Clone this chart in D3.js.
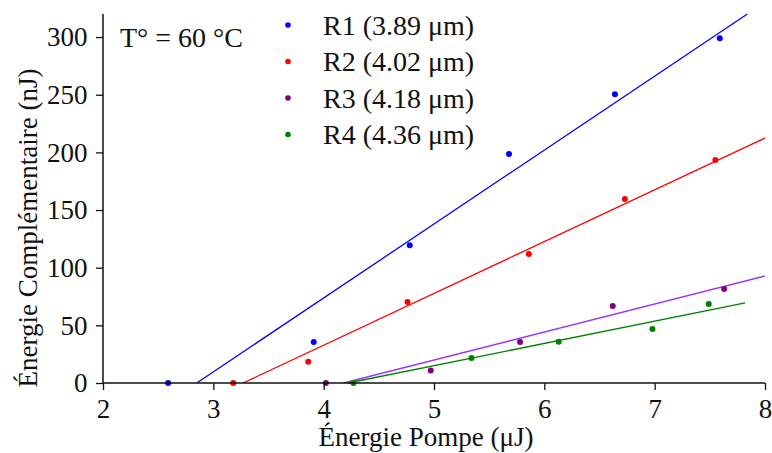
<!DOCTYPE html>
<html><head><meta charset="utf-8">
<script src="https://cdn.jsdelivr.net/npm/d3@7"></script>
<style>body{margin:0;background:#fff}svg{display:block}text{font-family:"Liberation Serif","DejaVu Serif",serif;fill:#111}</style>
</head><body><svg id="c" width="772" height="453"></svg>
<script>
const seriesNames = ["R1 (3.89 μm)", "R2 (4.02 μm)", "R3 (4.18 μm)", "R4 (4.36 μm)"];
const dotColors = ["#0000ff", "#ff0000", "#800080", "#008000"];
const lineColors = ["#0000ff", "#ff0000", "#9933ff", "#008000"];
const r1 = [[2.59,0],[3.91,35.6],[4.78,119.5],[5.68,198.5],[6.64,250.5],[7.59,299]];
const r2 = [[3.18,0],[3.86,18.5],[4.76,70.3],[5.86,111.8],[6.73,159.6],[7.55,193.4]];
const r3 = [[4.02,0],[4.97,10.8],[5.78,35.6],[6.62,66.8],[7.63,81.5]];
const r4 = [[4.27,0],[5.34,21.7],[6.13,35.8],[6.98,46.8],[7.49,68.5]];
const fit1 = [[2.85,0],[7.84,320]];
const fit2 = [[3.27,0],[8.0,212.5]];
const fit3 = [[4.18,0],[8.0,92.8]];
const fit4 = [[4.22,0],[7.82,69.4]];
const xTicks = [2,3,4,5,6,7,8];
const yTicks = [0,50,100,150,200,250,300];
const xTitle = "Énergie Pompe (μJ)";
const yTitle = "Énergie Complémentaire (nJ)";
const note = "T° = 60 °C";

const pts = [r1,r2,r3,r4], fits = [fit1,fit2,fit3,fit4];
const svg = d3.select("#c");
const x = d3.scaleLinear().domain([2,8]).range([103,765]);
const y = d3.scaleLinear().domain([0,320]).range([383,14]);

const line = d3.line().x(d=>x(d[0])).y(d=>y(d[1]));
fits.forEach((f,i)=>svg.append("path").attr("d",line(f)).attr("fill","none").attr("stroke",lineColors[i]).attr("stroke-width",1.3));
pts.forEach((p,i)=>svg.append("g").selectAll("circle").data(p).join("circle")
  .attr("cx",d=>x(d[0])).attr("cy",d=>y(d[1])).attr("r",3).attr("fill",dotColors[i]));

const xa = svg.append("g").attr("transform","translate(0,383)");
xa.call(d3.axisBottom(x).tickValues(d3.range(2,8.01,0.5)).tickSize(4).tickFormat(""));
xa.call(d3.axisBottom(x).tickValues(xTicks).tickSize(7).tickSizeOuter(0).tickFormat(d3.format("d")));
xa.selectAll("text").attr("font-size",27).attr("dy","0.93em");
const ya = svg.append("g").attr("transform","translate(103,0)");
ya.call(d3.axisLeft(y).tickValues(d3.range(0,320,25)).tickSize(4).tickFormat(""));
ya.call(d3.axisLeft(y).tickValues(yTicks).tickSize(7).tickSizeOuter(0).tickFormat(d3.format("d")));
ya.selectAll("text").attr("font-size",27).attr("dx","-0.2em").attr("dy","0.33em");
svg.selectAll(".tick line").attr("stroke","#111").attr("stroke-width",1.3);
svg.selectAll(".domain").attr("d",null);
svg.append("line").attr("x1",x(2)).attr("x2",x(8)).attr("y1",y(0)).attr("y2",y(0)).attr("stroke","#111").attr("stroke-width",1.5);
svg.append("line").attr("x1",x(2)).attr("x2",x(2)).attr("y1",y(0)).attr("y2",y(320)).attr("stroke","#111").attr("stroke-width",1.5);

svg.append("text").attr("x",426).attr("y",446).attr("text-anchor","middle").attr("font-size",27).text(xTitle);
svg.append("text").attr("transform",`translate(37,228) rotate(-90)`).attr("text-anchor","middle").attr("font-size",27).text(yTitle);
svg.append("text").attr("x",120).attr("y",47).attr("font-size",28).text(note);

seriesNames.forEach((n,i)=>{
  const cy = 25 + i*36.5;
  svg.append("circle").attr("cx",288).attr("cy",cy).attr("r",2.8).attr("fill",dotColors[i]);
  svg.append("text").attr("x",323).attr("y",cy).attr("dy","0.35em").attr("font-size",28).text(n);
});
</script></body></html>
